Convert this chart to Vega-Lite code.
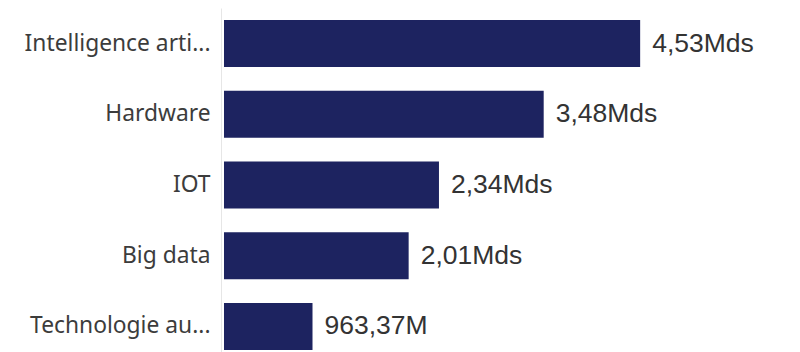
{
  "$schema": "https://vega.github.io/schema/vega-lite/v6.json",
  "width": 576,
  "height": 354,
  "autosize": {"type": "none"},
  "padding": {"left": 224, "top": 8, "right": 0, "bottom": 0},
  "background": "white",
  "config": {"view": {"stroke": null}},
  "data": {
    "values": [
      {"cat": "Intelligence arti...", "value": 4.53, "label": "4,53Mds"},
      {"cat": "Hardware", "value": 3.48, "label": "3,48Mds"},
      {"cat": "IOT", "value": 2.34, "label": "2,34Mds"},
      {"cat": "Big data", "value": 2.01, "label": "2,01Mds"},
      {"cat": "Technologie au...", "value": 0.96337, "label": "963,37M"}
    ]
  },
  "encoding": {
    "y": {
      "field": "cat",
      "type": "nominal",
      "sort": null,
      "scale": {"paddingInner": 0.336, "paddingOuter": 0.17},
      "axis": {
        "title": null,
        "ticks": false,
        "domainColor": "#e6e6e6",
        "offset": 3,
        "labelPadding": 11,
        "labelFont": "Noto Sans",
        "labelFontSize": 22.8,
        "labelColor": "#3c3c3c",
        "labelLimit": 250
      }
    },
    "x": {
      "field": "value",
      "type": "quantitative",
      "scale": {"domain": [0, 6.27], "nice": false},
      "axis": null
    }
  },
  "layer": [
    {"mark": {"type": "bar", "color": "#1d2360"}},
    {
      "mark": {"type": "text", "align": "left", "baseline": "middle", "dx": 12, "font": "Liberation Sans", "fontSize": 26.5, "color": "#333333"},
      "encoding": {"text": {"field": "label"}}
    }
  ]
}
